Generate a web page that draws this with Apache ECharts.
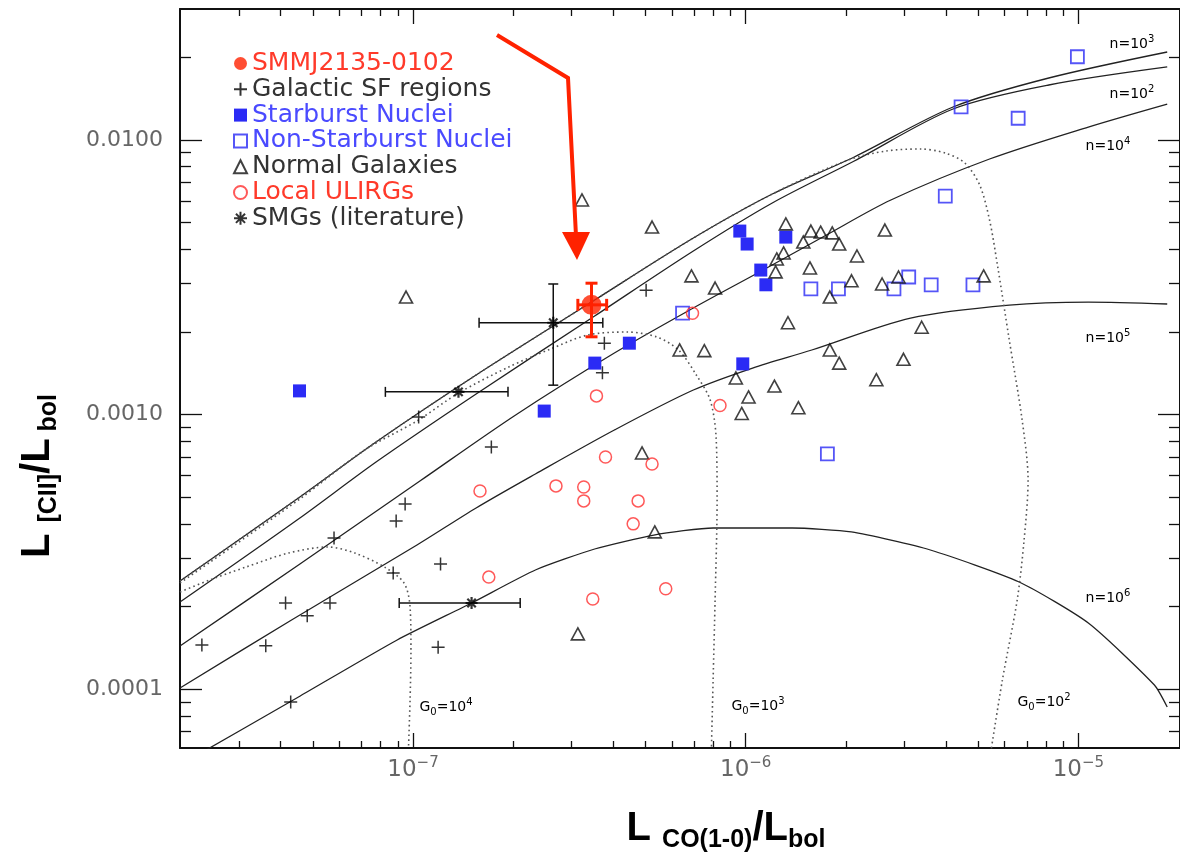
<!DOCTYPE html>
<html><head><meta charset="utf-8">
<script src="https://cdn.jsdelivr.net/npm/echarts@6/dist/echarts.min.js"></script>
<style>html,body{margin:0;padding:0;background:#fff}#c{width:1180px;height:858px}</style>
</head><body><div id="c"></div>
<script>
// ---- axis ranges and ticks ----
const xRange = [1.994e-8, 2.02e-5];
const yRange = [6.107e-5, 3.0e-2];
const xMajorTicks = [1e-7, 1e-6, 1e-5];
const xMinorTicks = [3e-8, 4e-8, 5e-8, 6e-8, 7e-8, 8e-8, 9e-8,
  2e-7, 3e-7, 4e-7, 5e-7, 6e-7, 7e-7, 8e-7, 9e-7,
  2e-6, 3e-6, 4e-6, 5e-6, 6e-6, 7e-6, 8e-6, 9e-6];
const yMajorTicks = [1e-4, 1e-3, 1e-2];
const yMinorTicks = [7e-5, 8e-5, 9e-5,
  2e-4, 3e-4, 4e-4, 5e-4, 6e-4, 7e-4, 8e-4, 9e-4,
  2e-3, 3e-3, 4e-3, 5e-3, 6e-3, 7e-3, 8e-3, 9e-3, 2e-2];

// ---- data points ----
const smmjPoint = [3.44e-7, 2.51e-3];
const smmjXErr = [3.13e-7, 3.82e-7];
const smmjYErr = [1.92e-3, 3.01e-3];

const galacticSF = [
  [5.02e-7, 2.84e-3], [3.76e-7, 1.82e-3], [3.71e-7, 1.42e-3], [1.04e-7, 9.80e-4],
  [1.72e-7, 7.62e-4], [9.47e-8, 4.73e-4], [8.90e-8, 4.10e-4], [5.79e-8, 3.55e-4],
  [8.72e-8, 2.65e-4], [1.21e-7, 2.86e-4], [4.14e-8, 2.06e-4], [5.63e-8, 2.06e-4],
  [4.81e-8, 1.85e-4], [2.32e-8, 1.45e-4], [3.61e-8, 1.44e-4], [1.19e-7, 1.42e-4],
  [4.29e-8, 8.98e-5]
];
const starburstNuclei = [
  [4.56e-8, 1.22e-3], [2.48e-7, 1.03e-3], [3.52e-7, 1.54e-3], [4.47e-7, 1.82e-3],
  [9.60e-7, 4.66e-3], [1.01e-6, 4.18e-3], [1.32e-6, 4.43e-3], [1.11e-6, 3.36e-3],
  [1.15e-6, 2.97e-3], [9.80e-7, 1.53e-3]
];
const nonStarburstNuclei = [
  [6.46e-7, 2.34e-3], [1.76e-6, 7.19e-4], [4.44e-6, 1.32e-2], [6.59e-6, 1.20e-2],
  [9.93e-6, 2.01e-2], [3.98e-6, 6.25e-3], [1.57e-6, 2.87e-3], [1.90e-6, 2.87e-3],
  [2.79e-6, 2.87e-3], [3.09e-6, 3.17e-3], [3.61e-6, 2.97e-3], [4.82e-6, 2.97e-3]
];
const normalGalaxies = [
  [3.22e-7, 6.05e-3], [5.23e-7, 4.82e-3], [9.53e-8, 2.68e-3], [6.87e-7, 3.20e-3],
  [8.09e-7, 2.89e-3], [1.32e-6, 4.95e-3], [1.57e-6, 4.66e-3], [1.68e-6, 4.62e-3],
  [1.82e-6, 4.59e-3], [1.91e-6, 4.18e-3], [1.49e-6, 4.25e-3], [2.16e-6, 3.78e-3],
  [1.30e-6, 3.88e-3], [1.24e-6, 3.69e-3], [1.23e-6, 3.31e-3], [1.56e-6, 3.42e-3],
  [2.62e-6, 4.70e-3], [2.08e-6, 3.07e-3], [2.57e-6, 2.99e-3], [2.88e-6, 3.17e-3],
  [1.79e-6, 2.68e-3], [5.19e-6, 3.20e-3], [1.34e-6, 2.16e-3], [3.38e-6, 2.08e-3],
  [6.33e-7, 1.72e-3], [7.51e-7, 1.71e-3], [1.79e-6, 1.72e-3], [1.91e-6, 1.54e-3],
  [2.98e-6, 1.59e-3], [9.34e-7, 1.36e-3], [1.22e-6, 1.27e-3], [1.02e-6, 1.16e-3],
  [9.73e-7, 1.01e-3], [1.44e-6, 1.06e-3], [2.47e-6, 1.34e-3], [4.88e-7, 7.25e-4],
  [5.33e-7, 3.74e-4], [3.13e-7, 1.59e-4]
];
const localULIRGs = [
  [3.56e-7, 1.17e-3], [6.92e-7, 2.34e-3], [8.37e-7, 1.08e-3], [3.79e-7, 7.01e-4],
  [5.23e-7, 6.61e-4], [1.59e-7, 5.27e-4], [2.69e-7, 5.50e-4], [3.26e-7, 5.45e-4],
  [3.26e-7, 4.85e-4], [4.75e-7, 4.85e-4], [4.59e-7, 4.00e-4], [1.69e-7, 2.56e-4],
  [3.47e-7, 2.13e-4], [5.75e-7, 2.32e-4]
];
const smgPoints = [[2.64e-7, 2.16e-3], [1.37e-7, 1.21e-3], [1.50e-7, 2.06e-4]];
const smgXErr = [[1.58e-7, 3.72e-7], [8.26e-8, 1.93e-7], [9.09e-8, 2.10e-7]];
const smgYErr = [[1.28e-3, 2.99e-3], null, null];

// ---- PDR model curves ----
const curveN1e2 = [[1.994e-8,2.077e-4],[4.527e-8,4.167e-4],[7.821e-8,6.776e-4],[1.548e-7,1.189e-3],[3.516e-7,2.286e-3],[6.961e-7,3.943e-3],[1.202e-6,5.897e-3],[2.120e-6,8.387e-3],[4.199e-6,1.297e-2],[8.147e-6,1.586e-2],[1.849e-5,1.845e-2]];
const curveN1e3 = [[1.994e-8,2.477e-4],[4.527e-8,4.970e-4],[7.821e-8,8.014e-4],[1.548e-7,1.394e-3],[3.516e-7,2.614e-3],[6.961e-7,4.396e-3],[1.202e-6,6.359e-3],[2.120e-6,8.674e-3],[4.199e-6,1.319e-2],[8.147e-6,1.682e-2],[1.849e-5,2.092e-2]];
const curveN1e4 = [[1.994e-8,1.436e-4],[4.527e-8,2.834e-4],[1.049e-7,5.730e-4],[2.035e-7,9.97e-4],[4.030e-7,1.676e-3],[6.961e-7,2.445e-3],[1.100e-6,3.306e-3],[1.727e-6,4.471e-3],[2.731e-6,6.047e-3],[5.407e-6,8.527e-3],[1.071e-5,1.115e-2],[1.849e-5,1.352e-2]];
const curveN1e5 = [[1.994e-8,1.010e-4],[4.315e-8,1.786e-4],[1.028e-7,3.350e-4],[1.548e-7,4.570e-4],[2.333e-7,6.077e-4],[4.030e-7,8.787e-4],[6.961e-7,1.229e-3],[1.049e-6,1.478e-3],[1.580e-6,1.719e-3],[3.130e-6,2.247e-3],[6.198e-6,2.506e-3],[1.071e-5,2.570e-3],[1.849e-5,2.528e-3]];
const curveN1e6 = [[1.994e-8,5.297e-5],[4.527e-8,9.367e-5],[8.963e-8,1.511e-4],[1.50e-7,2.06e-4],[2.333e-7,2.717e-4],[3.516e-7,3.240e-4],[5.297e-7,3.643e-4],[7.981e-7,3.864e-4],[1.379e-6,3.864e-4],[2.077e-6,3.737e-4],[3.589e-6,3.213e-4],[6.637e-6,2.457e-4],[1.071e-5,1.742e-4],[1.692e-5,1.036e-4],[1.849e-5,8.612e-5]];
const curveG1e4 = [[1.994e-8,2.259e-4],[2.448e-8,2.498e-4],[3.152e-8,2.786e-4],[4.227e-8,3.133e-4],[5.556e-8,3.296e-4],[6.68e-8,3.133e-4],[8.204e-8,2.786e-4],[9.40e-8,2.436e-4],[9.80e-8,1.993e-4],[9.86e-8,1.389e-4],[9.80e-8,9.135e-5],[9.665e-8,5.523e-5]];
const curveG1e3 = [[1.994e-8,2.436e-4],[4.527e-8,4.887e-4],[7.155e-8,7.431e-4],[1.028e-7,9.478e-4],[1.37e-7,1.198e-3],[1.940e-7,1.491e-3],[2.550e-7,1.719e-3],[3.351e-7,1.949e-3],[4.404e-7,1.999e-3],[5.407e-7,1.917e-3],[6.283e-7,1.719e-3],[7.106e-7,1.394e-3],[7.821e-7,1.130e-3],[8.147e-7,8.286e-4],[8.204e-7,4.887e-4],[8.091e-7,2.112e-4],[7.981e-7,1.080e-4],[7.873e-7,5.523e-5]];
const curveG1e2 = [[1.994e-8,2.477e-4],[4.527e-8,4.970e-4],[7.821e-8,8.014e-4],[1.548e-7,1.394e-3],[3.516e-7,2.614e-3],[6.961e-7,4.396e-3],[1.202e-6,6.359e-3],[2.035e-6,8.457e-3],[2.638e-6,9.118e-3],[3.351e-6,9.273e-3],[3.976e-6,8.97e-3],[4.558e-6,8.246e-3],[5.05e-6,6.857e-3],[5.407e-6,5.113e-3],[5.710e-6,3.506e-3],[6.198e-6,1.869e-3],[6.774e-6,9.557e-4],[7.059e-6,5.777e-4],[6.867e-6,3.494e-4],[6.546e-6,2.112e-4],[5.909e-6,1.080e-4],[5.407e-6,5.523e-5]];

// ---- build ----
const chart = echarts.init(document.getElementById('c'), null, {renderer: 'canvas'});
const AX = '#111';
const FONT = 'DejaVu Sans';

function xAxisDef(pos, major, withLine, withLabel) {
  return {
    type: 'log', logBase: 10, min: xRange[0], max: xRange[1], position: pos,
    splitLine: {show: false},
    axisLine: {show: withLine, onZero: false, lineStyle: {color: AX, width: 2}},
    axisTick: {show: true, inside: true, length: major ? 15 : 7,
      customValues: major ? xMajorTicks : xMinorTicks, lineStyle: {color: AX, width: 1.3}},
    axisLabel: withLabel ? {
      show: true, customValues: xMajorTicks, margin: 8,
      formatter: v => '{b|10}{s|\u2212' + Math.round(-Math.log10(v)) + '}',
      rich: {
        b: {fontSize: 23, lineHeight: 28, verticalAlign: 'middle', fontFamily: FONT, color: '#666'},
        s: {fontSize: 15, lineHeight: 15, verticalAlign: 'top', fontFamily: FONT, color: '#666'}
      }
    } : {show: false}
  };
}
function yAxisDef(pos, major, withLine, withLabel) {
  return {
    type: 'log', logBase: 10, min: yRange[0], max: yRange[1], position: pos,
    splitLine: {show: false},
    axisLine: {show: withLine, onZero: false, lineStyle: {color: AX, width: 2}},
    axisTick: {show: true, inside: true, length: major ? 22 : 11,
      customValues: major ? yMajorTicks : yMinorTicks, lineStyle: {color: AX, width: 1.3}},
    axisLabel: withLabel ? {
      show: true, customValues: yMajorTicks, margin: 17,
      formatter: v => v.toFixed(4),
      fontSize: 22, fontFamily: FONT, color: '#666'
    } : {show: false}
  };
}

function lineSeries(name, data, dotted, smooth) {
  return {
    name: name, type: 'line', data: data, xAxisIndex: 0, yAxisIndex: 0,
    symbol: 'none', smooth: smooth, clip: true, z: 1, silent: true,
    lineStyle: dotted ? {color: '#555', width: 1.6, type: [1.6, 3.2]} : {color: '#222', width: 1.3}
  };
}

function errRender(color, width, cap) {
  return function (params, api) {
    const x = api.value(0), y = api.value(1);
    const xl = api.value(2), xh = api.value(3), yl = api.value(4), yh = api.value(5);
    const st = {stroke: color, lineWidth: width};
    const ch = [];
    if (xl > 0) {
      const a = api.coord([xl, y]), b = api.coord([xh, y]);
      ch.push({type: 'line', shape: {x1: a[0], y1: a[1], x2: b[0], y2: b[1]}, style: st});
      ch.push({type: 'line', shape: {x1: a[0], y1: a[1] - cap, x2: a[0], y2: a[1] + cap}, style: st});
      ch.push({type: 'line', shape: {x1: b[0], y1: b[1] - cap, x2: b[0], y2: b[1] + cap}, style: st});
    }
    if (yl > 0) {
      const a = api.coord([x, yl]), b = api.coord([x, yh]);
      ch.push({type: 'line', shape: {x1: a[0], y1: a[1], x2: b[0], y2: b[1]}, style: st});
      ch.push({type: 'line', shape: {x1: a[0] - cap, y1: a[1], x2: a[0] + cap, y2: a[1]}, style: st});
      ch.push({type: 'line', shape: {x1: b[0] - cap, y1: b[1], x2: b[0] + cap, y2: b[1]}, style: st});
    }
    return {type: 'group', children: ch};
  };
}

const smgErrData = smgPoints.map((p, i) => [p[0], p[1],
  smgXErr[i] ? smgXErr[i][0] : 0, smgXErr[i] ? smgXErr[i][1] : 0,
  smgYErr[i] ? smgYErr[i][0] : 0, smgYErr[i] ? smgYErr[i][1] : 0]);
const smmjErrData = [[smmjPoint[0], smmjPoint[1], smmjXErr[0], smmjXErr[1], smmjYErr[0], smmjYErr[1]]];

const PLUS = 'path://M0,6H12M6,0V12';
const STAR = 'path://M0,6H12M6,0V12M1.8,1.8L10.2,10.2M10.2,1.8L1.8,10.2';
const RED = '#ff2200';
const BLUE = '#2b2bf5';

const curveLabel = {
  a: {fontSize: 14, lineHeight: 20, verticalAlign: 'middle', fontFamily: FONT, color: '#111'},
  p: {fontSize: 10, lineHeight: 10, verticalAlign: 'top', fontFamily: FONT, color: '#111'},
  b: {fontSize: 10, lineHeight: 10, verticalAlign: 'bottom', fontFamily: FONT, color: '#111'}
};
function gText(x, y, txt) {
  return {type: 'text', x: x, y: y, z: 50, silent: true,
    style: {text: txt, rich: curveLabel, align: 'center', verticalAlign: 'middle'}};
}
const titleRich = {
  L: {fontSize: 40, lineHeight: 40, verticalAlign: 'top', fontWeight: 'bold', fontFamily: 'Liberation Sans', color: '#000'},
  s: {fontSize: 25, lineHeight: 44, verticalAlign: 'bottom', fontWeight: 'bold', fontFamily: 'Liberation Sans', color: '#000'}
};

const option = {
  animation: false,
  backgroundColor: '#fff',
  textStyle: {fontFamily: FONT},
  grid: {left: 180, top: 9, right: -12, bottom: 110},
  xAxis: [
    xAxisDef('bottom', true, true, true),
    xAxisDef('bottom', false, false, false),
    xAxisDef('top', true, true, false),
    xAxisDef('top', false, false, false)
  ],
  yAxis: [
    yAxisDef('left', true, true, true),
    yAxisDef('left', false, false, false),
    yAxisDef('right', true, true, false),
    yAxisDef('right', false, false, false)
  ],
  legend: {
    orient: 'vertical', left: 233, top: 51, padding: 0,
    itemWidth: 13, itemHeight: 13, itemGap: 0.8, selectedMode: false,
    textStyle: {fontFamily: FONT, fontSize: 25, lineHeight: 25, color: '#333'},
    data: [
      {name: 'SMMJ2135-0102', textStyle: {color: '#ff3a2a'}},
      {name: 'Galactic SF regions', textStyle: {color: '#333'}},
      {name: 'Starburst Nuclei', textStyle: {color: '#4a4aff'}},
      {name: 'Non-Starburst Nuclei', textStyle: {color: '#4a4aff'}},
      {name: 'Normal Galaxies', textStyle: {color: '#333'}},
      {name: 'Local ULIRGs', textStyle: {color: '#ff3a2a'}},
      {name: 'SMGs (literature)', textStyle: {color: '#333'}}
    ]
  },
  series: [
    lineSeries('n=10^2', curveN1e2, false, 0.3),
    lineSeries('n=10^3', curveN1e3, false, 0.3),
    lineSeries('n=10^4', curveN1e4, false, 0.3),
    lineSeries('n=10^5', curveN1e5, false, 0.3),
    lineSeries('n=10^6', curveN1e6, false, 0.2),
    lineSeries('G0=10^4', curveG1e4, true, 0.3),
    lineSeries('G0=10^3', curveG1e3, true, 0.3),
    lineSeries('G0=10^2', curveG1e2, true, 0.3),
    {name: 'Galactic SF regions', type: 'scatter', data: galacticSF, symbol: PLUS, symbolSize: 13, z: 4,
      itemStyle: {color: 'rgba(0,0,0,0)', borderColor: '#000', borderWidth: 1.5}},
    {name: 'Starburst Nuclei', type: 'scatter', data: starburstNuclei, symbol: 'rect', symbolSize: 13, z: 4,
      itemStyle: {color: BLUE, opacity: 1}},
    {name: 'Non-Starburst Nuclei', type: 'scatter', data: nonStarburstNuclei, symbol: 'rect', symbolSize: 13, z: 4,
      itemStyle: {color: 'rgba(255,255,255,0)', borderColor: BLUE, borderWidth: 1.8}},
    {name: 'Normal Galaxies', type: 'scatter', data: normalGalaxies, symbol: 'triangle', symbolSize: [13, 12], z: 4,
      itemStyle: {color: 'rgba(255,255,255,0)', borderColor: '#111', borderWidth: 1.6}},
    {name: 'Local ULIRGs', type: 'scatter', data: localULIRGs, symbol: 'circle', symbolSize: 12, z: 4,
      itemStyle: {color: 'rgba(255,255,255,0)', borderColor: '#ff3030', borderWidth: 1.5}},
    {name: 'SMGs (literature)', type: 'scatter', data: smgPoints, symbol: STAR, symbolSize: 12, z: 5,
      itemStyle: {color: 'rgba(0,0,0,0)', borderColor: '#000', borderWidth: 2.2}},
    {name: 'smg-err', type: 'custom', data: smgErrData, encode: {x: 0, y: 1}, z: 3, silent: true,
      renderItem: errRender('#111', 1.5, 5)},
    {name: 'smmj-err', type: 'custom', data: smmjErrData, encode: {x: 0, y: 1}, z: 6, silent: true,
      renderItem: errRender(RED, 3, 6)},
    {name: 'SMMJ2135-0102', type: 'scatter', data: [smmjPoint], symbol: 'circle', symbolSize: 20, z: 7,
      itemStyle: {color: RED}}
  ],
  graphic: [
    {type: 'polyline', z: 60, silent: true, shape: {points: [[497, 35], [568, 78], [576, 236]]},
      style: {stroke: RED, lineWidth: 4, fill: null}},
    {type: 'polygon', z: 60, silent: true, shape: {points: [[562, 232], [590, 232], [577, 260]]},
      style: {fill: RED}},
    gText(1132, 44, '{a|n=10}{p|3}'),
    gText(1132, 94, '{a|n=10}{p|2}'),
    gText(1108, 146, '{a|n=10}{p|4}'),
    gText(1108, 338, '{a|n=10}{p|5}'),
    gText(1108, 598, '{a|n=10}{p|6}'),
    gText(446, 707, '{a|G}{b|0}{a|=10}{p|4}'),
    gText(758, 706, '{a|G}{b|0}{a|=10}{p|3}'),
    gText(1044, 702, '{a|G}{b|0}{a|=10}{p|2}'),
    {type: 'text', x: 726, y: 831, silent: true, z: 50,
      style: {text: '{L|L }{s|CO(1-0)}{L|/L}{s|bol}', rich: titleRich, align: 'center', verticalAlign: 'middle'}},
    {type: 'text', x: 40, y: 476, rotation: Math.PI / 2, silent: true, z: 50,
      style: {text: '{L|L }{s|[CII]}{L|/L}{s| bol}', rich: titleRich, align: 'center', verticalAlign: 'middle'}}
  ]
};
chart.setOption(option);
</script>
</body></html>
